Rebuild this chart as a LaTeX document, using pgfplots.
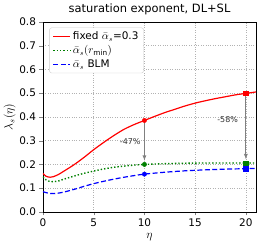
\documentclass[border=0pt]{standalone}
\usepackage{pgfplots}
\pgfplotsset{compat=1.18}
\usepackage{fontspec}
\setmainfont{DejaVu Sans}
\definecolor{mplgreen}{RGB}{0,128,0}
\begin{document}
\begin{tikzpicture}
\begin{axis}[
  scale only axis, width=213bp, height=190bp,
  xmin=0, xmax=21, ymin=0, ymax=0.8,
  xtick={0,5,10,15,20}, ytick={0,0.1,...,0.8},
  /pgf/number format/assume math mode=true,
  yticklabel style={/pgf/number format/fixed,/pgf/number format/fixed zerofill,/pgf/number format/precision=1},
  tick align=outside, tick pos=left,
  major tick length=3.5bp,
  ticklabel style={font=\fontsize{10.5}{12}\selectfont},
  grid=major, grid style={dotted, gray!60, line width=0.6pt},
  axis line style={line width=0.8pt},
  title={saturation exponent, DL+SL},
  title style={font=\fontsize{11.5}{14}\selectfont, yshift=-2bp},
  xlabel={$\eta$}, ylabel={$\lambda_s(\eta)$},
  xlabel style={font=\fontsize{12}{12}\selectfont},
  ylabel style={font=\fontsize{12}{12}\selectfont, yshift=-3bp},
  legend pos=north west,
  legend style={font=\fontsize{10.5}{12}\selectfont, draw=gray!40, rounded corners=2pt, row sep=0.5pt, inner xsep=3bp},
  legend cell align=left,
]
\addplot[red, line width=1.2pt, smooth] coordinates {(0,0.162)(0.3,0.150)(0.7,0.146)(1,0.148)(1.5,0.157)(2,0.170)(3,0.197)(4,0.228)(5,0.262)(6,0.293)(7,0.322)(8,0.348)(9,0.368)(10,0.385)(11,0.402)(12,0.418)(13,0.432)(14,0.446)(15,0.458)(16,0.468)(17,0.477)(18,0.485)(19,0.493)(20,0.499)(21,0.505)};
\addlegendentry{fixed $\bar{\alpha}_s$=0.3}
\addplot[mplgreen, line width=1.4pt, dotted, smooth] coordinates {(0,0.148)(0.3,0.135)(0.8,0.127)(1.5,0.130)(2,0.137)(3,0.150)(4,0.162)(5,0.172)(6,0.181)(7,0.188)(8,0.193)(9,0.197)(10,0.200)(12,0.203)(14,0.205)(16,0.206)(18,0.206)(20,0.206)(21,0.206)};
\addlegendentry{$\bar{\alpha}_s(r_{\min})$}
\addplot[blue, line width=1.2pt, dash pattern=on 5pt off 2.5pt, smooth] coordinates {(0,0.085)(0.5,0.079)(1,0.077)(1.5,0.079)(2,0.083)(3,0.094)(4,0.107)(5,0.119)(6,0.129)(7,0.138)(8,0.146)(9,0.153)(10,0.159)(12,0.167)(14,0.173)(16,0.177)(18,0.180)(20,0.182)(21,0.183)};
\addlegendentry{$\bar{\alpha}_s$ BLM}
\draw[gray, line width=0.8pt, -{latex}] (axis cs:10,0.378) -- (axis cs:10,0.216);
\draw[gray, line width=0.8pt, -{latex}] (axis cs:20,0.492) -- (axis cs:20,0.222);
\addplot[red, only marks, mark=*, mark size=2.2pt, forget plot] coordinates {(10,0.385)};
\addplot[red, only marks, mark=square*, mark size=2.2pt, forget plot] coordinates {(20,0.499)};
\addplot[mplgreen, only marks, mark=*, mark size=2.2pt, forget plot] coordinates {(10,0.200)};
\addplot[mplgreen, only marks, mark=square*, mark size=2.2pt, forget plot] coordinates {(20,0.206)};
\addplot[blue, only marks, mark=*, mark size=2.2pt, forget plot] coordinates {(10,0.159)};
\addplot[blue, only marks, mark=square*, mark size=2.2pt, forget plot] coordinates {(20,0.182)};
\node[font=\fontsize{8}{9}\selectfont, text=black!80] at (axis cs:8.6,0.295) {-47\%};
\node[font=\fontsize{8}{9}\selectfont, text=black!80] at (axis cs:18.2,0.39) {-58\%};
\end{axis}
\path[use as bounding box] (current axis.south west) ++(-43bp,-36bp) rectangle ([xshift=18bp,yshift=21bp]current axis.north east);
\end{tikzpicture}
\end{document}
